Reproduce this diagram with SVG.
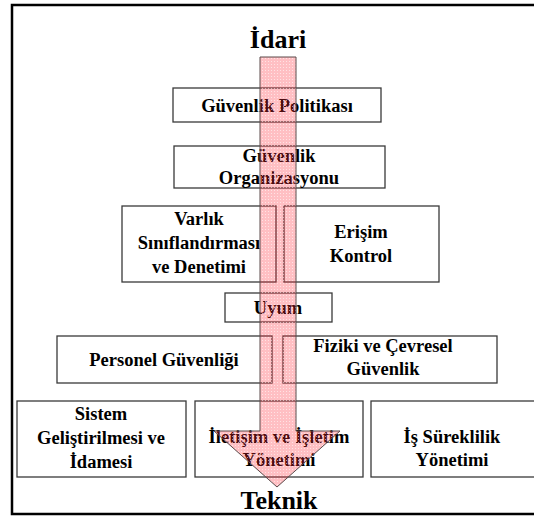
<svg xmlns="http://www.w3.org/2000/svg" width="534" height="516" viewBox="0 0 534 516">
  <style>
    .box { fill: #ffffff; stroke: #3a3a3a; stroke-width: 1.3; }
    .lbl { font-family: "Liberation Serif", "Times New Roman", serif; font-weight: bold; font-size: 18.5px; fill: #000000; text-anchor: middle; }
    .ttl { font-family: "Liberation Serif", "Times New Roman", serif; font-weight: bold; font-size: 26px; fill: #000000; text-anchor: middle; }
  </style>
  <defs>
    <!-- dotted pink fill for the vertical arrow -->
    <pattern id="dots" width="3" height="3" patternUnits="userSpaceOnUse">
      <rect width="3" height="3" fill="#ff2a3a" fill-opacity="0.3"/>
      <rect x="1" y="1" width="1" height="1" fill="#ffffff" fill-opacity="0.55"/>
    </pattern>
  </defs>

  <rect width="534" height="516" fill="#ffffff"/>
  <!-- outer frame: left, top and bottom edges -->
  <path d="M534,5 H12 V514 H534" fill="none" stroke="#000000" stroke-width="2.5"/>

  <text class="ttl" x="278" y="48">İdari</text>
  <text class="ttl" x="279" y="509">Teknik</text>

  <g id="guvenlik-politikasi">
    <rect class="box" x="173" y="88" width="208" height="34"/>
    <text class="lbl" x="277" y="112">Güvenlik Politikası</text>
  </g>
  <g id="guvenlik-organizasyonu">
    <rect class="box" x="174" y="146" width="211" height="42"/>
    <text class="lbl" x="279" y="162">Güvenlik</text>
    <text class="lbl" x="279" y="184">Organizasyonu</text>
  </g>
  <g id="varlik">
    <rect class="box" x="122" y="206" width="154" height="76"/>
    <text class="lbl" x="199" y="225">Varlık</text>
    <text class="lbl" x="199" y="249">Sınıflandırması</text>
    <text class="lbl" x="199" y="273">ve Denetimi</text>
  </g>
  <g id="erisim">
    <rect class="box" x="284" y="206" width="155" height="76"/>
    <text class="lbl" x="361" y="238">Erişim</text>
    <text class="lbl" x="361" y="262">Kontrol</text>
  </g>
  <g id="uyum">
    <rect class="box" x="225" y="293" width="107" height="29"/>
    <text class="lbl" x="278" y="314">Uyum</text>
  </g>
  <g id="personel">
    <rect class="box" x="57" y="336" width="215" height="47"/>
    <text class="lbl" x="164" y="366">Personel Güvenliği</text>
  </g>
  <g id="fiziki">
    <rect class="box" x="283" y="336" width="214" height="47"/>
    <text class="lbl" x="383" y="352">Fiziki ve Çevresel</text>
    <text class="lbl" x="383" y="375">Güvenlik</text>
  </g>
  <g id="sistem">
    <rect class="box" x="17" y="401" width="169" height="76"/>
    <text class="lbl" x="101" y="420">Sistem</text>
    <text class="lbl" x="101" y="444">Geliştirilmesi ve</text>
    <text class="lbl" x="101" y="468">İdamesi</text>
  </g>
  <g id="iletisim">
    <rect class="box" x="195" y="401" width="168" height="76"/>
    <text class="lbl" x="279" y="443">İletişim ve İşletim</text>
    <text class="lbl" x="279" y="466">Yönetimi</text>
  </g>
  <g id="is-sureklilik">
    <rect class="box" x="371" y="401" width="170" height="76"/>
    <text class="lbl" x="452" y="443">İş Süreklilik</text>
    <text class="lbl" x="452" y="466">Yönetimi</text>
  </g>

  <g id="connectors">
    <!-- translucent arrow from İdari down to Teknik, drawn over the boxes -->
    <path d="M260,57 H296 V431 H340 L277,487 L214,431 H260 Z" fill="url(#dots)" stroke="#5a4a4a" stroke-width="1"/>
  </g>
</svg>
